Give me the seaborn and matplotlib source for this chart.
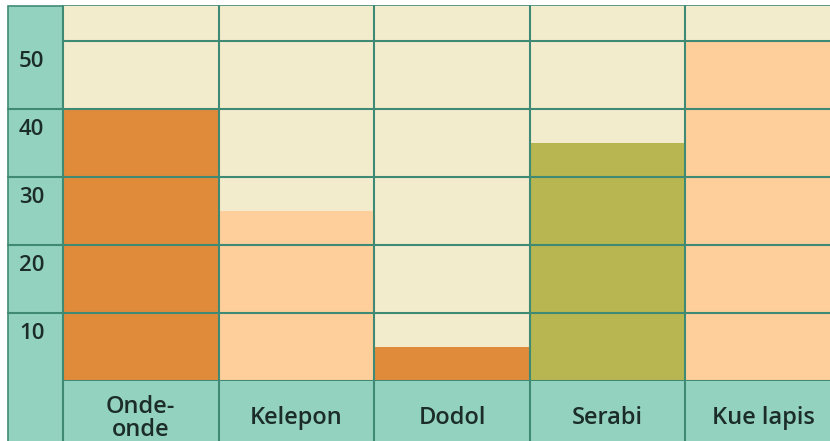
import matplotlib
matplotlib.use("Agg")
import matplotlib.pyplot as plt
from matplotlib.patches import Rectangle
import seaborn as sns

# --- data ---
categories = ["Onde-\nonde", "Kelepon", "Dodol", "Serabi", "Kue lapis"]
values = [40, 25, 5, 35, 50]
bar_colors = ["#e08b3a", "#fecf9b", "#e08b3a", "#b7b650", "#fecf9b"]
y_labels = [10, 20, 30, 40, 50]

teal = "#94d2c0"
cream = "#f3eccc"
line_col = "#3f8a74"
text_col = "#1c2d29"

sns.set_theme(style="white")
plt.rcParams["font.family"] = ["Open Sans", "DejaVu Sans"]

W, H = 830, 441
fig = plt.figure(figsize=(W / 100, H / 100), dpi=100)
fig.patch.set_facecolor("white")

# teal frame behind the plot (left column + bottom row)
bg = fig.add_axes([0, 0, 1, 1], zorder=-1)
bg.set_axis_off()
bg.set_xlim(0, W)
bg.set_ylim(H, 0)
bg.add_patch(Rectangle((8, 6), W, H, facecolor=teal, edgecolor=line_col, lw=1.2))

ax = fig.add_axes([63 / W, 60 / H, 778 / W, 375 / H])
ax.set_facecolor(cream)

sns.barplot(x=categories, y=values, hue=categories, palette=bar_colors,
            width=1.0, saturation=1, legend=False, edgecolor="none", ax=ax)

ax.set_xlim(-0.5, 4.5)
ax.set_ylim(0, 55.1)

# horizontal grid lines (the 10..40 lines run across the teal column too)
x_left = -55 / 778
for v in y_labels:
    xmin = 0 if v == 50 else x_left
    ax.axhline(v, xmin=xmin, xmax=1, color=line_col, lw=1.5, clip_on=False, zorder=5)
    ax.text(-44 / 778, v - 3, str(v), transform=ax.get_yaxis_transform(),
            ha="left", va="center", fontsize=16, fontweight="semibold", color=text_col)

# vertical column separators, continuing into the bottom row
for xv in [-0.5, 0.5, 1.5, 2.5, 3.5]:
    ax.axvline(xv, ymin=-0.2, ymax=1, color=line_col, lw=1.5, clip_on=False, zorder=5)
ax.axhline(0, color=line_col, lw=1.5, zorder=5)

for s in ax.spines.values():
    s.set_visible(False)

ax.set_yticks([])
ax.set_xlabel("")
ax.set_ylabel("")
ax.tick_params(axis="x", length=0, pad=27, labelsize=17, labelcolor=text_col)
for lab in ax.get_xticklabels():
    lab.set_va("center")
    lab.set_fontweight("semibold")
    lab.set_linespacing(0.9)

fig.savefig("out.png", dpi=100)
